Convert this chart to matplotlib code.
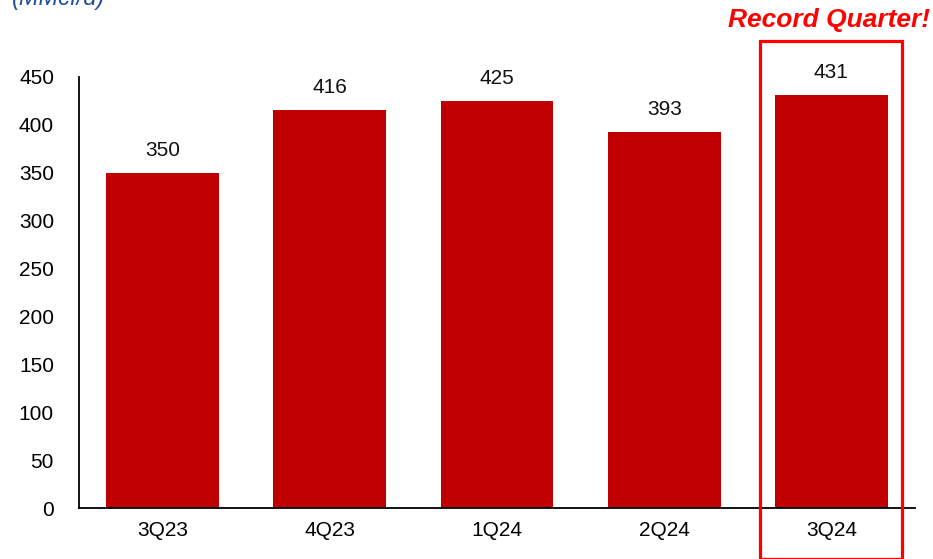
import matplotlib
matplotlib.use("Agg")
import matplotlib.pyplot as plt
from matplotlib.patches import Rectangle

plt.rcParams['font.family'] = ['Liberation Sans', 'DejaVu Sans']

quarters = ["3Q23", "4Q23", "1Q24", "2Q24", "3Q24"]
volumes = [350, 416, 425, 393, 431]
y_ticks = [0, 50, 100, 150, 200, 250, 300, 350, 400, 450]

W, H = 933, 559
fig = plt.figure(figsize=(W / 100, H / 100), dpi=100)
ax = fig.add_axes([79 / W, 1 - 508 / H, (915 - 79) / W, (508 - 77) / H])

x = range(len(quarters))
ax.bar(x, volumes, width=0.675, color="#C00000", zorder=2)
for xi, v in zip(x, volumes):
    ax.annotate(f"{v}", (xi, v), xytext=(0, 16), textcoords="offset points",
                ha="center", va="center", fontsize=15, color="#111111")

ax.set_xlim(-0.5, len(quarters) - 0.5)
ax.set_ylim(0, 450)
ax.set_yticks(y_ticks)
ax.set_xticks(list(x))
ax.set_xticklabels(quarters)
ax.tick_params(axis="y", length=0, pad=18, labelsize=15)
ax.tick_params(axis="x", length=0, pad=9, labelsize=15)
for s in ("top", "right"):
    ax.spines[s].set_visible(False)
ax.spines["left"].set_linewidth(1.3)
ax.spines["bottom"].set_linewidth(1.3)

# Highlight box around the latest quarter
last = len(quarters) - 1
ax.add_patch(Rectangle((last - 0.425, -53), 0.85, 541, fill=False,
                       edgecolor="#FF0000", linewidth=2.3, clip_on=False, zorder=3))
ax.annotate("Record Quarter!", (last, 510), xytext=(-2, 0), textcoords="offset points",
            ha="center", va="center", fontsize=19, fontweight="bold",
            fontstyle="italic", color="#FF0000", annotation_clip=False)

fig.text(12 / W, 1 + 1 / H, "(MMcf/d)", ha="left", va="center", fontsize=17,
         fontstyle="italic", color="#1F4E9A")

fig.savefig("out.png", dpi=100)
